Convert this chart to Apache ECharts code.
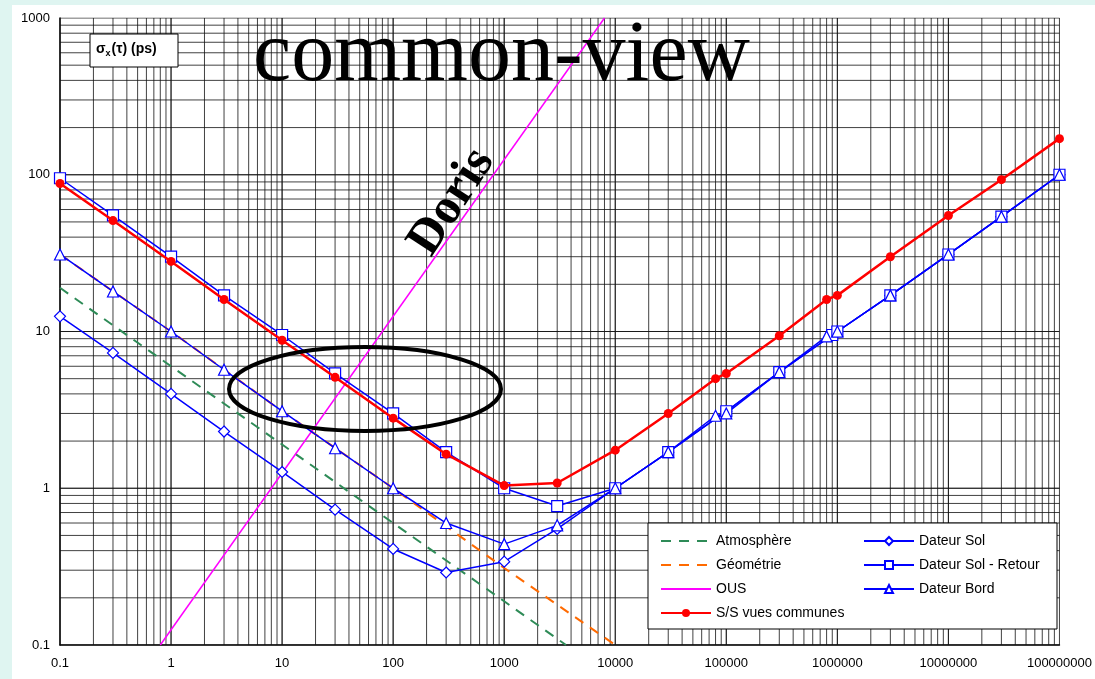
<!DOCTYPE html>
<html><head><meta charset="utf-8">
<script src="https://cdn.jsdelivr.net/npm/echarts@6/dist/echarts.min.js"></script>
<style>body{margin:0;background:#dff5f1}#c{width:1095px;height:679px}</style></head>
<body><div id="c"></div>
<script>
const xTicks=[0.1,1,10,100,1000,10000,100000,1000000,10000000,100000000];
const yTicks=[0.1,1,10,100,1000];
const solX=[0.1,0.3,1,3,10,30,100,300,1000,3000,10000,30000,100000,300000,1000000,3000000,10000000,30000000,100000000];
const solY=[12.5,7.3,4,2.3,1.27,0.73,0.41,0.29,0.34,0.55,1.0,1.7,3.1,5.5,10,17,31,54,100];
const retX=[0.1,0.3,1,3,10,30,100,300,1000,3000,10000,30000,100000,300000,900000,1000000,3000000,10000000,30000000,100000000];
const retY=[95,55,30,17,9.5,5.4,3.0,1.7,1.0,0.77,1.0,1.7,3.1,5.5,9.5,10,17,31,54,100];
const bordX=[0.1,0.3,1,3,10,30,100,300,1000,3000,10000,30000,80000,100000,300000,800000,1000000,3000000,10000000,30000000,100000000];
const bordY=[31,18,10,5.7,3.1,1.8,1.0,0.6,0.44,0.58,1.0,1.7,2.9,3.0,5.5,9.3,10,17,31,54,100];
const ssX=[0.1,0.3,1,3,10,30,100,300,1000,3000,10000,30000,80000,100000,300000,800000,1000000,3000000,10000000,30000000,100000000];
const ssY=[88,51,28,16,8.8,5.1,2.8,1.65,1.04,1.08,1.75,3.0,5.0,5.4,9.4,16,17,30,55,93,170];
const atmX=[0.1,1,10,100,1000,3600];
const atmY=[19,6,1.9,0.6,0.19,0.1];
const geoX=[0.1,1,10,100,1000,10000];
const geoY=[31,10,3.1,1.0,0.31,0.1];
const ousX=[0.8,8000];
const ousY=[0.1,1000];
const zip=(a,b)=>a.map((v,i)=>[v,b[i]]);
const grid=[];
for(let e=-1;e<8;e++)for(let k=1;k<=10;k++){const x=k*Math.pow(10,e);grid.push([x,0.1],[x,1000],null);}
for(let e=-1;e<3;e++)for(let k=1;k<=10;k++){const y=k*Math.pow(10,e);grid.push([0.1,y],[1e8,y],null);}
const blue='#0000ff';
const ch=echarts.init(document.getElementById('c'));
const ls={fontFamily:'Liberation Sans',fontSize:14,color:'#000'};
const noSym={itemStyle:{opacity:0}};
ch.setOption({
 backgroundColor:'#dff5f1',animation:false,
 grid:{left:60,right:33,top:18,bottom:34},
 xAxis:{type:'log',min:0.1,max:1e8,logBase:10,splitLine:{show:false},axisLine:{lineStyle:{color:'#000',width:1.5}},axisTick:{show:false},axisLabel:{fontFamily:'Liberation Sans',fontSize:13,color:'#000',margin:12,formatter:v=>String(v)}},
 yAxis:{type:'log',min:0.1,max:1000,splitLine:{show:false},axisLine:{show:true,lineStyle:{color:'#000',width:1.5}},axisTick:{show:false},axisLabel:{fontFamily:'Liberation Sans',fontSize:13,color:'#000',margin:10,formatter:v=>String(v)}},
 legend:[
  {z:60,left:655,top:529,orient:'vertical',itemGap:10,itemWidth:50,itemHeight:10,textStyle:ls,data:[Object.assign({name:'Atmosphère'},noSym),Object.assign({name:'Géométrie'},noSym),Object.assign({name:'OUS'},noSym),'S/S vues communes']},
  {z:60,left:858,top:529,orient:'vertical',itemGap:10,itemWidth:50,itemHeight:10,textStyle:ls,data:['Dateur Sol','Dateur Sol - Retour','Dateur Bord']}
 ],
 graphic:[
  {type:'rect',z:-1,shape:{x:12,y:5,width:1083,height:674},style:{fill:'#fff'}},
  {type:'rect',z:50,shape:{x:648,y:523,width:409,height:106},style:{fill:'#fff',stroke:'#000',lineWidth:1}},
  {type:'rect',z:50,shape:{x:90,y:34,width:88,height:33},style:{fill:'#fff',stroke:'#000',lineWidth:1}},
  {type:'text',z:51,x:96,y:41,style:{text:'{a|σ}{b|x}{a|(τ) (ps)}',rich:{a:{font:'bold 14px Liberation Sans'},b:{font:'bold 9px Liberation Sans',padding:[8,1,0,0]}},fill:'#000'}},
  {type:'text',z:51,x:253,y:14,style:{text:'common-view',font:'86px Liberation Serif',fill:'#000'}},
  {type:'text',z:51,x:452,y:202,rotation:Math.PI*57/180,style:{text:'Doris',font:'bold 50px Liberation Serif',fill:'#000',align:'center',verticalAlign:'middle'}},
  {type:'ellipse',z:51,shape:{cx:365,cy:389,rx:136,ry:42},style:{fill:'none',stroke:'#000',lineWidth:4}}
 ],
 series:[
  {name:'grid',type:'line',data:grid,symbol:'none',silent:true,connectNulls:false,lineStyle:{color:'#111',width:0.8},z:1},
  {name:'Atmosphère',type:'line',data:zip(atmX,atmY),symbol:'none',color:'#2e8b57',lineStyle:{width:2,type:[10,8]},z:3},
  {name:'Géométrie',type:'line',data:zip(geoX,geoY),symbol:'none',color:'#ff6a00',lineStyle:{width:2,type:[10,8]},z:3},
  {name:'OUS',type:'line',data:zip(ousX,ousY),symbol:'none',color:'#ff00ff',lineStyle:{width:1.5},z:3},
  {name:'Dateur Sol',type:'line',data:zip(solX,solY),symbol:'diamond',symbolSize:11,color:blue,itemStyle:{color:'#fff',borderColor:blue,borderWidth:1.2},lineStyle:{width:1.5,color:blue},z:4},
  {name:'Dateur Sol - Retour',type:'line',data:zip(retX,retY),symbol:'rect',symbolSize:11,color:blue,itemStyle:{color:'#fff',borderColor:blue,borderWidth:1.2},lineStyle:{width:1.5,color:blue},z:4},
  {name:'Dateur Bord',type:'line',data:zip(bordX,bordY),symbol:'triangle',symbolSize:11,color:blue,itemStyle:{color:'#fff',borderColor:blue,borderWidth:1.2},lineStyle:{width:1.5,color:blue},z:4},
  {name:'S/S vues communes',type:'line',data:zip(ssX,ssY),symbol:'circle',symbolSize:9,color:'#ff0000',lineStyle:{width:2.5},z:5}
 ]
});
</script></body></html>
